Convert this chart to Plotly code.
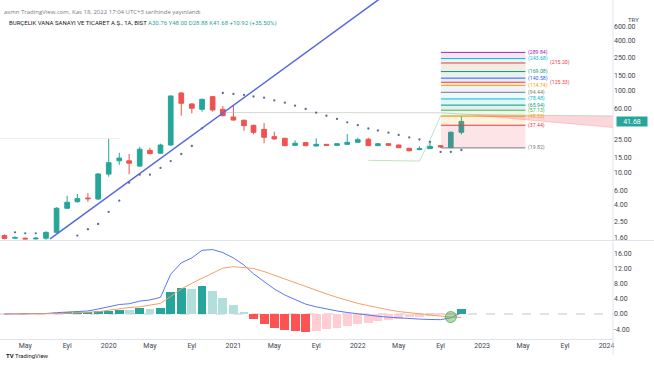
import math
import pandas as pd
import plotly.graph_objects as go

# ---------------- data ----------------
months = pd.date_range("2019-03-01", periods=45, freq="MS")

opens = [1.69, 1.57, 1.57, 1.54, 1.57, 1.85, 3.64, 4.38, 4.85, 4.72,
         9.50, 13.8, 13.8, 11.9, 18.5, 17.1, 21.5, 92.7, 68.1, 58.6, 83.6, 58.6,
         47.2, 43.1, 37.4, 33.4, 27.2, 26.0, 21.3, 23.0, 20.9, 21.9, 21.3, 21.9,
         23.2, 25.3, 21.1, 22.3, 21.5, 19.6, 18.9, 19.4, 21.1, 19.95, 30.76]
highs = [1.75, 1.66, 1.60, 1.62, 1.90, 3.75, 5.19, 5.44, 5.59, 9.80,
         25.5, 17.3, 16.7, 20.5, 19.95, 22.3, 86.5, 94.44, 69.5, 79.0, 85.0, 64.4,
         64.9, 44.0, 38.0, 39.9, 31.3, 26.3, 24.5, 23.5, 26.0, 22.2, 22.6, 29.3,
         26.4, 26.4, 22.7, 22.8, 21.8, 19.9, 20.7, 24.1, 21.5, 31.5, 48.00]
lows = [1.52, 1.55, 1.52, 1.51, 1.50, 1.80, 3.55, 4.25, 4.35, 4.60,
        8.83, 12.3, 9.46, 11.6, 16.5, 16.8, 21.0, 49.0, 52.4, 54.8, 55.0, 48.0,
        42.5, 32.1, 29.1, 22.6, 25.0, 20.8, 21.0, 20.8, 20.6, 21.0, 21.0, 21.7,
        22.9, 20.9, 20.8, 21.0, 19.7, 18.0, 18.6, 19.2, 19.82, 19.9, 28.88]
closes = [1.56, 1.60, 1.54, 1.57, 1.85, 3.64, 4.31, 4.77, 4.76, 9.53,
          13.1, 14.9, 12.9, 19.1, 16.9, 21.5, 85.2, 69.4, 60.3, 77.6, 57.5, 49.0,
          43.4, 37.0, 30.7, 26.7, 25.5, 21.1, 22.6, 21.1, 21.9, 21.3, 22.3, 23.2,
          25.0, 21.1, 22.3, 21.3, 19.95, 18.3, 19.4, 20.7, 20.4, 30.76, 41.68]

sar_dates = ["2019-04-01", "2019-05-01", "2019-06-01", "2019-10-01", "2019-11-01", "2019-12-01",
             "2020-01-01", "2020-02-01", "2020-03-01", "2020-04-01", "2020-05-01", "2020-06-01",
             "2020-07-01", "2020-08-01", "2020-09-01", "2020-10-01", "2020-12-01",
             "2021-01-01", "2021-02-01", "2021-03-01", "2021-04-01", "2021-05-01", "2021-06-01",
             "2021-07-01", "2021-08-01", "2021-09-01", "2021-10-01", "2021-11-01", "2021-12-01",
             "2022-01-01", "2022-02-01", "2022-03-01", "2022-04-01", "2022-05-01", "2022-06-01",
             "2022-07-01", "2022-08-01", "2022-09-01", "2022-10-01", "2022-11-01"]
sar_values = [1.85, 1.80, 1.80, 1.69, 2.02, 2.34,
              3.28, 4.51, 7.47, 9.35, 9.35, 11.3,
              13.7, 16.7, 20.9, 34.4, 92.7,
              90.1, 87.7, 84.0, 81.2, 75.1, 70.6,
              64.9, 59.1, 53.3, 48.9, 44.7, 40.7,
              37.5, 34.2, 32.3, 30.4, 28.5, 26.6,
              25.1, 23.5, 17.7, 17.7, 18.7]

trend_dates = ["2019-07-13", "2022-04-01"]
trend_values = [1.54, 1560.0]

early_line_dates = ["2019-02-16", "2020-02-01"]
early_line_values = [25.8, 25.8]
span_b_dates = ["2020-12-01", "2022-09-01", "2022-12-01"]
span_b_values = [53.5, 53.2, 50.6]
span_a_dates = ["2022-02-01", "2022-07-01", "2022-08-01", "2022-09-01", "2022-12-01"]
span_a_values = [14.0, 13.7, 24.8, 48.6, 50.0]
cloud_dates = pd.date_range("2022-12-01", periods=15, freq="MS")
cloud_top = [50.6, 50.5, 50.4, 50.3, 50.2, 50.1, 50.0, 49.8, 49.6, 49.4, 49.2, 49.0, 48.8, 48.6, 48.5]
cloud_bottom = [50.0, 48.6, 47.4, 46.2, 45.0, 43.9, 42.8, 41.7, 40.6, 39.6, 38.6, 37.6, 36.6, 35.6, 34.8]

fib_levels = [19.82, 37.44, 48.33, 57.13, 65.94, 78.48, 94.44, 114.74, 125.33,
              140.58, 169.08, 215.20, 243.68, 289.84]
fib_start, fib_end = "2022-09-02", "2023-05-08"

hist = [0.0, 0.0, 0.02, 0.05, 0.1, 0.25, 0.3, 0.35, 0.45, 0.7,
        0.9, 1.1, 1.0, 1.5, 1.3, 1.6, 5.9, 6.9, 6.7, 7.4, 6.1, 4.1,
        2.3, 0.6, -1.4, -2.6, -3.6, -4.2, -4.4, -4.7, -4.4, -4.0, -3.6, -3.2,
        -2.7, -2.3, -1.9, -1.6, -1.2, -0.9, -0.7, -0.5, -0.35, -0.15, 1.2]
macd = [0.0, 0.0, 0.02, 0.05, 0.12, 0.35, 0.5, 0.65, 0.8, 1.3,
        1.9, 2.5, 2.7, 3.4, 3.7, 4.4, 10.5, 13.5, 14.8, 16.8, 17.0, 16.2,
        14.8, 12.9, 10.6, 8.6, 6.6, 5.0, 3.8, 2.6, 1.9, 1.3, 0.8, 0.4,
        0.0, -0.35, -0.6, -0.85, -1.05, -1.2, -1.35, -1.45, -1.5, -1.0, 0.3]
signal = [0.0, 0.0, 0.0, 0.0, 0.02, 0.1, 0.2, 0.3, 0.35, 0.6,
          1.0, 1.4, 1.7, 1.9, 2.4, 2.8, 4.6, 6.6, 8.1, 9.4, 10.9, 12.1,
          12.5, 12.3, 12.0, 11.2, 10.2, 9.2, 8.2, 7.3, 6.3, 5.3, 4.4, 3.6,
          2.8, 2.2, 1.6, 1.1, 0.65, 0.3, 0.0, -0.3, -0.55, -0.8, -0.9]
cross_date, cross_value = "2022-10-01", -0.8

price_ticks = [600, 400, 250, 150, 100, 60, 25, 15, 10, 6, 4, 2.5, 1.6]
macd_ticks = [16, 12, 8, 4, 0, -4]
x_tick_dates = ["2019-05-01", "2019-09-01", "2020-01-01", "2020-05-01", "2020-09-01",
                "2021-01-01", "2021-05-01", "2021-09-01", "2022-01-01", "2022-05-01",
                "2022-09-01", "2023-01-01", "2023-05-01", "2023-09-01", "2024-01-01"]
x_tick_text = ["May", "Eyl", "2020", "May", "Eyl", "2021", "May", "Eyl", "2022", "May",
               "Eyl", "2023", "May", "Eyl", "2024"]

# ---------------- styles ----------------
UP, DOWN = "#26a69a", "#ef5350"
fib_colors = ["#787b86", "#f23645", "#ff9800", "#4caf50", "#089981", "#00bcd4", "#787b86",
              "#ff9800", "#f23645", "#2962ff", "#089981", "#f23645", "#00bcd4", "#9c27b0"]
band_colors = ["rgba(242,54,69,0.13)", "rgba(255,152,0,0.13)", "rgba(139,195,74,0.13)",
               "rgba(8,153,129,0.12)", "rgba(0,188,212,0.12)", "rgba(0,188,212,0.07)",
               "rgba(63,81,181,0.07)", "rgba(255,152,0,0.12)", "rgba(63,81,181,0.10)",
               "rgba(120,150,110,0.14)", "rgba(190,160,110,0.20)", "rgba(8,153,129,0.10)",
               "rgba(156,39,176,0.12)"]
# crowded fib labels are nudged sideways so that they do not overprint each other
label_shift_px = [0, 0, 0, 0, 0, 0, 0, 0, 22, 0, 0, 22, 0, 0]
AX_FONT = dict(family="Roboto, Arial", size=7, color="#434651")

fig = go.Figure()

# fib bands
for i in range(1, len(fib_levels)):
    lo, hi = fib_levels[i - 1], fib_levels[i]
    fig.add_trace(go.Scatter(x=[fib_start, fib_end, fib_end, fib_start, fib_start],
                             y=[lo, lo, hi, hi, lo], fill="toself", mode="lines",
                             line=dict(width=0), fillcolor=band_colors[i - 1],
                             hoverinfo="skip", showlegend=False))
for lv, c in zip(fib_levels, fib_colors):
    fig.add_trace(go.Scatter(x=[fib_start, fib_end], y=[lv, lv], mode="lines",
                             line=dict(color=c, width=1), hoverinfo="skip", showlegend=False))
for lv, c, sh in zip(fib_levels, fib_colors, label_shift_px):
    fig.add_annotation(x=fib_end, xref="x", y=math.log10(lv), yref="y", xanchor="left",
                       xshift=2 + sh, text=f"({lv:.2f})", showarrow=False, borderpad=0,
                       font=dict(family="Roboto, Arial", size=5.2, color=c))

# cloud-like lines
fig.add_trace(go.Scatter(x=early_line_dates, y=early_line_values, mode="lines",
                         line=dict(color="rgba(190,195,200,0.3)", width=1),
                         hoverinfo="skip", showlegend=False))
fig.add_trace(go.Scatter(x=span_b_dates, y=span_b_values, mode="lines",
                         line=dict(color="rgba(160,170,160,0.45)", width=1),
                         hoverinfo="skip", showlegend=False))
fig.add_trace(go.Scatter(x=span_a_dates, y=span_a_values, mode="lines",
                         line=dict(color="rgba(120,190,120,0.45)", width=1),
                         hoverinfo="skip", showlegend=False))
fig.add_trace(go.Scatter(x=cloud_dates, y=cloud_bottom, mode="lines",
                         line=dict(color="rgba(242,54,69,0.25)", width=0.8),
                         hoverinfo="skip", showlegend=False))
fig.add_trace(go.Scatter(x=cloud_dates, y=cloud_top, mode="lines", fill="tonexty",
                         fillcolor="rgba(242,54,69,0.2)",
                         line=dict(color="rgba(160,190,160,0.55)", width=1),
                         hoverinfo="skip", showlegend=False))

# trend line
fig.add_trace(go.Scatter(x=trend_dates, y=trend_values, mode="lines",
                         line=dict(color="#5468e0", width=1.5),
                         hoverinfo="skip", showlegend=False))

# candles
fig.add_trace(go.Candlestick(x=months, open=opens, high=highs, low=lows, close=closes,
                             increasing=dict(line=dict(color=UP, width=1), fillcolor=UP),
                             decreasing=dict(line=dict(color=DOWN, width=1), fillcolor=DOWN),
                             whiskerwidth=0, showlegend=False))

# parabolic SAR dots
fig.add_trace(go.Scatter(x=sar_dates, y=sar_values, mode="markers",
                         marker=dict(size=2.3, color="#5c6a99"),
                         hoverinfo="skip", showlegend=False))

# MACD pane
hist_colors = []
for i, v in enumerate(hist):
    prev = hist[i - 1] if i > 0 else 0
    if v >= 0:
        hist_colors.append("#26a69a" if v >= prev else "#b2dfdb")
    else:
        hist_colors.append("#ff5252" if v < prev else "#ffcdd2")
fig.add_trace(go.Bar(x=months, y=hist, marker=dict(color=hist_colors, line=dict(width=0)),
                     width=26 * 24 * 3600 * 1000, yaxis="y2", showlegend=False))
fig.add_trace(go.Scatter(x=months, y=macd, mode="lines", yaxis="y2",
                         line=dict(color="#5b77f0", width=1), showlegend=False))
fig.add_trace(go.Scatter(x=months, y=signal, mode="lines", yaxis="y2",
                         line=dict(color="#f5a06a", width=1), showlegend=False))
fig.add_trace(go.Scatter(x=[cross_date], y=[cross_value], mode="markers", yaxis="y2",
                         marker=dict(size=11, color="rgba(76,175,80,0.45)",
                                     line=dict(color="rgba(76,175,80,0.8)", width=1)),
                         showlegend=False))

PH = 339.0  # plot area height in px
fig.update_layout(
    width=654, height=366,
    margin=dict(l=0, r=41, t=0, b=27),
    paper_bgcolor="white", plot_bgcolor="white",
    showlegend=False, bargap=0,
    xaxis=dict(type="date", range=["2019-02-16", "2024-01-20"], anchor="y2",
               tickvals=x_tick_dates, ticktext=x_tick_text, tickfont=AX_FONT,
               showgrid=False, zeroline=False, showline=True, linecolor="#e0e3eb",
               ticks="", rangeslider=dict(visible=False)),
    yaxis=dict(type="log", domain=[(PH - 240) / PH, 1], range=[0.174, 3.101],
               side="right", tickvals=price_ticks,
               ticktext=[f"{v:.2f}" for v in price_ticks], tickfont=AX_FONT,
               showgrid=False, zeroline=False, ticks="", anchor="x"),
    yaxis2=dict(domain=[0, (PH - 241) / PH], range=[-6.6, 19.26], side="right",
                tickvals=macd_ticks, ticktext=[f"{v:.2f}" for v in macd_ticks],
                tickfont=AX_FONT, showgrid=False, zeroline=False, ticks="", anchor="x"),
)

# zero line in MACD pane
fig.add_shape(type="line", xref="paper", x0=0, x1=1, yref="y2", y0=0, y1=0,
              line=dict(color="#c3c6ce", width=1, dash="dash"), layer="below")
# pane separator and price-axis border
fig.add_shape(type="line", xref="paper", x0=0, x1=654 / 613, yref="paper",
              y0=(PH - 240.5) / PH, y1=(PH - 240.5) / PH, line=dict(color="#e0e3eb", width=1))
fig.add_shape(type="line", xref="paper", x0=1, x1=1, yref="paper", y0=(PH - 355) / PH, y1=1,
              line=dict(color="#e0e3eb", width=1))

# last price label
fig.add_annotation(xref="paper", x=1, xanchor="left", xshift=3, yref="y",
                   y=math.log10(closes[-1]), text=f"{closes[-1]:.2f}", showarrow=False,
                   bgcolor=UP, font=dict(family="Roboto, Arial", size=7, color="white"),
                   width=30, height=9, borderpad=0)
fig.add_annotation(xref="paper", x=1, xanchor="left", xshift=13, yref="paper",
                   y=1 - 14 / PH, text="TRY", showarrow=False,
                   font=dict(family="Roboto, Arial", size=6, color="#434651"))

# header
fig.add_annotation(xref="paper", x=0, xanchor="left", xshift=2, yref="paper",
                   y=1 - 6 / PH, text="asmn TradingView.com, Kas 18, 2022 17:04 UTC+3 tarihinde yayınlandı",
                   showarrow=False, font=dict(family="Open Sans, Arial", size=6, color="#787b86"))
fig.add_annotation(xref="paper", x=0, xanchor="left", xshift=7, yref="paper",
                   y=1 - 17 / PH,
                   text=("BURÇELIK VANA SANAYI VE TICARET A.Ş., 1A, BIST "
                         "<span style='color:#26a69a'>A30.76 Y48.00 D28.88 K41.68 +10.92 (+35.50%)</span>"),
                   showarrow=False, font=dict(family="Roboto, Arial", size=6, color="#131722"))
# footer logo
fig.add_annotation(xref="paper", x=0, xanchor="left", xshift=4, yref="paper",
                   y=1 - 361 / PH, text="<b>TV</b> TradingView", showarrow=False,
                   font=dict(family="Roboto, Arial", size=6, color="#131722"))

fig.write_html("out.html", config={"displayModeBar": False},
               post_script="document.body.style.margin='0px';")
